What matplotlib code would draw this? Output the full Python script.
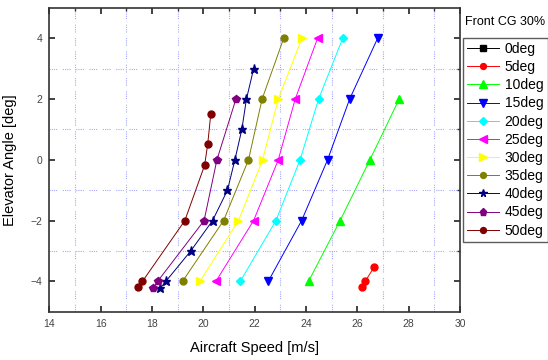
import matplotlib
matplotlib.use("Agg")
import matplotlib.pyplot as plt
from matplotlib.ticker import FixedLocator

plt.rcParams['font.family'] = ['Liberation Sans', 'DejaVu Sans']

labels = ['0deg', '5deg', '10deg', '15deg', '20deg', '25deg', '30deg',
          '35deg', '40deg', '45deg', '50deg']

x_0 = []
y_0 = []
x_5 = [26.66, 26.31, 26.17]
y_5 = [-3.52, -4.0, -4.2]
x_10 = [27.63, 26.49, 25.33, 24.10]
y_10 = [2, 0, -2, -4]
x_15 = [26.79, 25.70, 24.84, 23.83, 22.53]
y_15 = [4, 2, 0, -2, -4]
x_20 = [25.43, 24.49, 23.77, 22.83, 21.44]
y_20 = [4, 2, 0, -2, -4]
x_25 = [24.45, 23.58, 22.92, 21.96, 20.49]
y_25 = [4, 2, 0, -2, -4]
x_30 = [23.84, 22.92, 22.31, 21.37, 19.87]
y_30 = [4, 2, 0, -2, -4]
x_35 = [23.13, 22.29, 21.76, 20.79, 19.19]
y_35 = [4, 2, 0, -2, -4]
x_40 = [21.96, 21.68, 21.50, 21.23, 20.94, 20.36, 19.51, 18.54, 18.32]
y_40 = [3, 2, 1, 0, -1, -2, -3, -4, -4.23]
x_45 = [21.27, 20.53, 20.03, 18.22, 18.05]
y_45 = [2, 0, -2, -4, -4.23]
x_50 = [20.29, 20.17, 20.05, 19.28, 17.63, 17.46]
y_50 = [1.5, 0.51, -0.18, -2, -4, -4.2]

series_x = [x_0, x_5, x_10, x_15, x_20, x_25, x_30, x_35, x_40, x_45, x_50]
series_y = [y_0, y_5, y_10, y_15, y_20, y_25, y_30, y_35, y_40, y_45, y_50]
colors = ['#000000', '#ff0000', '#00ff00', '#0000ff', '#00ffff', '#ff00ff',
          '#ffff00', '#808000', '#000080', '#800080', '#800000']
markers = ['s', 'o', '^', 'v', 'D', '<', '>', 'o', '*', 'p', 'o']
msizes = [4.5, 5, 6, 6, 4.5, 6, 6, 5, 6.5, 6, 5]

x_ticks = [14, 16, 18, 20, 22, 24, 26, 28, 30]
y_ticks = [-4, -2, 0, 2, 4]

fig = plt.figure(figsize=(5.48, 3.6), dpi=100)
ax = fig.add_axes([0.09, 0.1342, 0.7494, 0.8436])

for xs, ys, c, m, ms, lab in zip(series_x, series_y, colors, markers, msizes, labels):
    ax.plot(xs, ys, color=c, lw=0.7, marker=m, markersize=ms,
            markerfacecolor=c, markeredgecolor=c, label=lab, zorder=3)

ax.set_xlim(14, 30)
ax.set_ylim(-5, 5)
ax.xaxis.set_major_locator(FixedLocator(x_ticks))
ax.yaxis.set_major_locator(FixedLocator(y_ticks))
ax.xaxis.set_minor_locator(FixedLocator([15, 17, 19, 21, 23, 25, 27, 29]))
ax.yaxis.set_minor_locator(FixedLocator([-3, -1, 1, 3]))

ax.grid(which='minor', color='#a8a8ff', lw=0.8, linestyle=(0, (1, 1, 1, 1, 1, 1, 1, 5)))
ax.grid(which='major', visible=False)

ax.tick_params(which='major', direction='in', length=4.5, width=1.3, color='#333333',
               top=True, right=True, labelsize=7.5, labelcolor='#444444', pad=5)
ax.tick_params(which='minor', direction='in', length=2.5, width=1.0, color='#333333',
               top=True, right=True, bottom=False, left=False)

for s in ax.spines.values():
    s.set_linewidth(1.2)
    s.set_color('#333333')

ax.set_xlabel('Aircraft Speed [m/s]', fontsize=10.5, labelpad=9)
ax.set_ylabel('Elevator Angle [deg]', fontsize=10.5, labelpad=10)

fig.text(0.921, 0.938, 'Front CG 30%', fontsize=9, ha='center', va='center')
leg = fig.legend(loc='upper left', bbox_to_anchor=(0.845, 0.895), fontsize=10,
                 frameon=True, fancybox=False, edgecolor='#333333',
                 handlelength=2.3, handletextpad=0.4, labelspacing=0.3,
                 borderpad=0.3, borderaxespad=0, markerscale=0.85)
leg.get_frame().set_linewidth(1.0)
for h in leg.get_lines():
    h.set_linewidth(0.7)

fig.savefig('out.png', dpi=100)
